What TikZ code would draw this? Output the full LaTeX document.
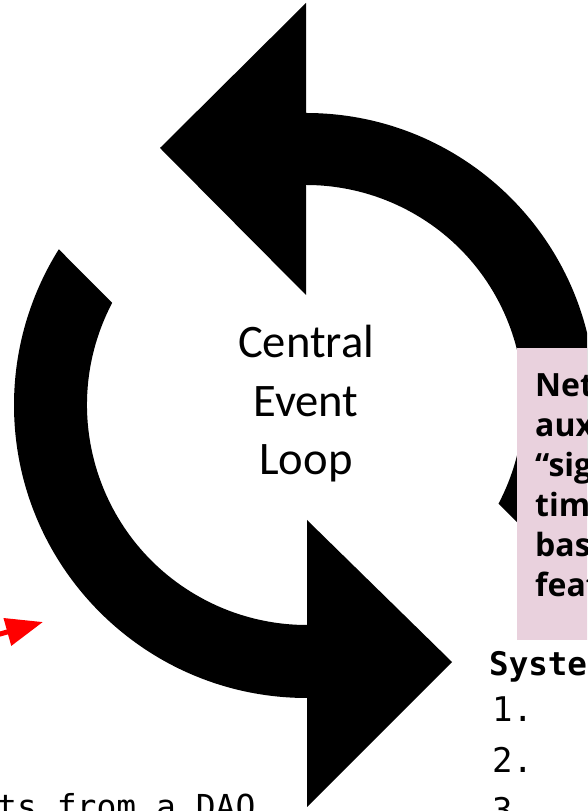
\documentclass[tikz,border=0pt]{standalone}
\usepackage{fontspec}
\setmainfont{Carlito}
\newfontfamily\notefont{Open Sans}
\newfontfamily\codefont{DejaVu Sans Mono}
\usetikzlibrary{arrows.meta,calc}
\definecolor{notepink}{RGB}{233,209,221}

\begin{document}
\begin{tikzpicture}[x=1pt,y=1pt,
  loopfill/.style={fill=black},
  notebox/.style={fill=notepink, inner sep=0pt, anchor=north west},
  notetext/.style={font=\notefont\bfseries\fontsize{32}{40}\selectfont, align=left, anchor=base west, inner sep=0pt},
  codehead/.style={font=\codefont\bfseries\fontsize{32.5}{36}\selectfont, anchor=base west, inner sep=0pt},
  codeitem/.style={font=\codefont\fontsize{34}{40}\selectfont, anchor=base west, inner sep=0pt},
  pointer/.style={red, line width=5pt, -{Triangle[length=37pt,width=27.5pt]}}]
\clip (0,0) rectangle (587,811);
\fill[white] (0,0) rectangle (587,811);

% upper circular arrow, head pointing left
\fill[loopfill] (306,516) -- (160,663) -- (306,808) -- (306,698)
  arc[start angle=90, end angle=-32.1, radius=289.5]
  -- ([shift={(306,408.5)}]-27.7:217.5)
  arc[start angle=-27.7, end angle=90, radius=217.5] -- cycle;

% lower circular arrow, head pointing right
\fill[loopfill] (307,291) -- (452,149) -- (307,4) -- (307,113)
  arc[start angle=270, end angle=147.9, radius=293]
  -- ([shift={(307,406)}]152.3:220)
  arc[start angle=152.3, end angle=270, radius=220] -- cycle;

% centre label (base anchor sits on the last line)
\node[font=\fontsize{46.6}{58.5}\selectfont, align=center, anchor=base, inner sep=0pt]
  (loop) at (306,336) {Central\\Event\\Loop};

% note box
\node[notebox, minimum width=120pt, minimum height=292pt] (note) at (517,463) {};
\node[notetext] (notetxt) at (535,214)
  {Network\\auxiliary\\“signals”\\time\\based\\features};

% code listing
\node[codehead] (syshead) at (489,135) {System};
\node[codeitem] (item1) at (492,89) {1.};
\node[codeitem] (item2) at (492,38) {2.};
\node[codeitem] (item3) at (492,-11) {3.};

% lower caption
\node[font=\codefont\fontsize{33}{40}\selectfont, anchor=base west, inner sep=0pt]
  (caption) at (-3,-8) {ts from a DAO};

% red pointer
\coordinate (redtail) at (-50,163);
\coordinate (redtip) at (43,189);
\draw[pointer] (redtail) -- (redtip);
\end{tikzpicture}
\end{document}
